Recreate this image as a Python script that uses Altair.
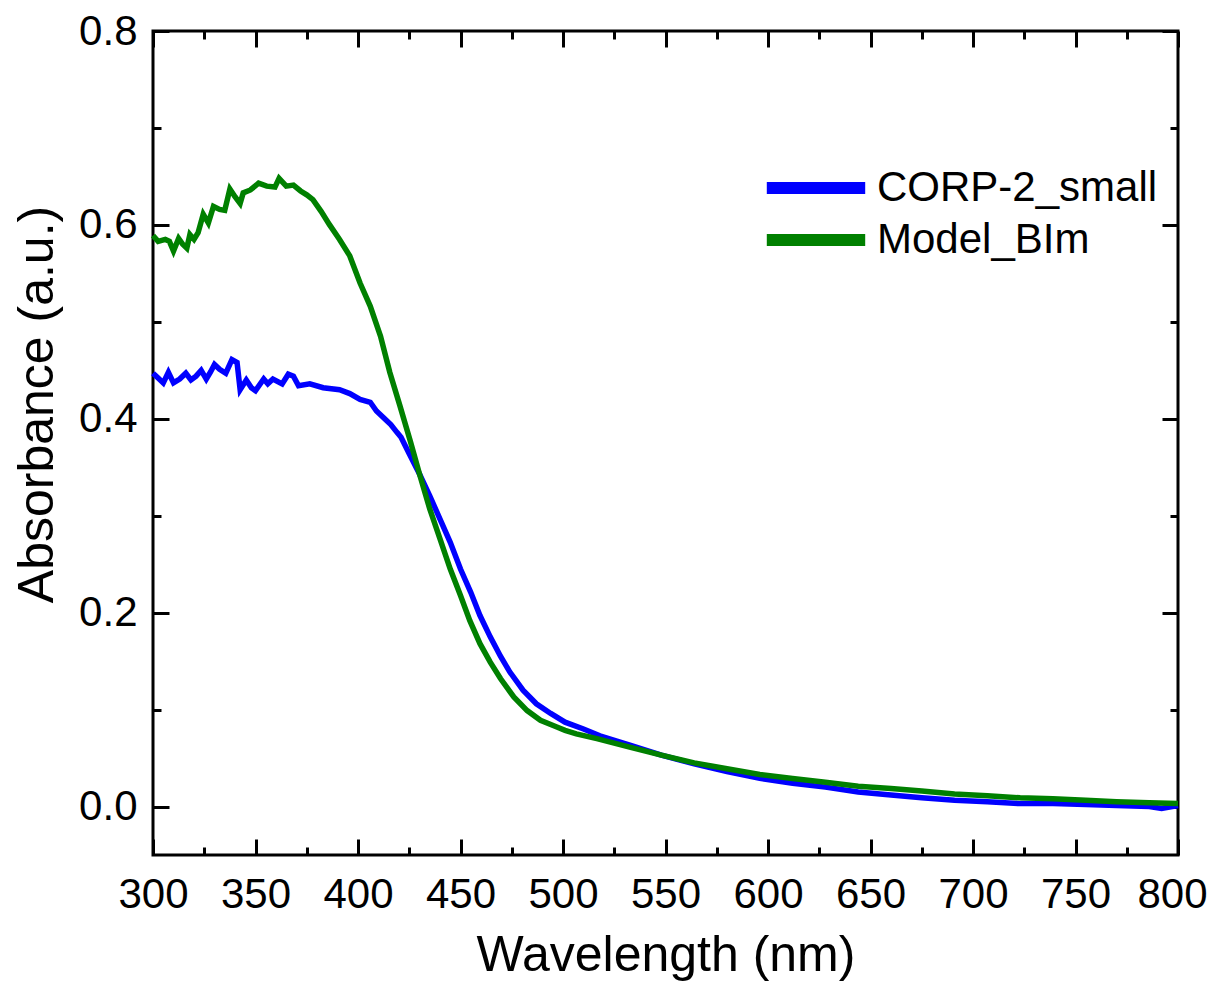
import altair as alt
import pandas as pd

# ---- data ----
series_names = ["CORP-2_small", "Model_BIm"]
series_colors = ["#0000FF", "#008000"]

corp_wl = [300, 302.5, 305, 307.5, 310, 313, 316, 318.5, 321, 323.5, 326, 328, 330, 332.5,
           335.5, 338.5, 341, 342.5, 345.5, 348, 350, 354, 356, 358.5, 363, 366, 368.5, 371,
           376.5, 383, 391, 396, 401, 406, 409, 412.5, 416, 419, 421, 425, 430, 435, 440,
           445, 450, 455, 459.5, 464.5, 469.5, 474, 480.5, 487, 494, 501, 510, 518, 533,
           548, 564, 580, 596, 612, 628, 644, 660, 675, 691, 707, 723, 739, 755, 770, 786,
           792, 800]
corp_abs = [0.447, 0.442, 0.437, 0.448, 0.437, 0.441, 0.447, 0.440, 0.444, 0.450, 0.441,
            0.448, 0.456, 0.451, 0.447, 0.461, 0.458, 0.430, 0.440, 0.432, 0.429, 0.441,
            0.436, 0.441, 0.436, 0.446, 0.444, 0.434, 0.436, 0.432, 0.430, 0.426, 0.420,
            0.417, 0.408, 0.401, 0.394, 0.386, 0.381, 0.364, 0.343, 0.3205, 0.2965, 0.2725,
            0.245, 0.221, 0.197, 0.175, 0.155, 0.139, 0.120, 0.106, 0.096, 0.087, 0.080,
            0.073, 0.063, 0.053, 0.044, 0.036, 0.029, 0.024, 0.020, 0.015, 0.012, 0.009,
            0.0065, 0.005, 0.003, 0.003, 0.002, 0.001, 0.000, -0.002, 0.001]

model_wl = [300, 302.5, 306, 308, 310, 312.5, 314.5, 316.5, 318, 320, 322, 324.5, 327, 329.5,
            332.5, 335, 337.5, 340, 342.5, 344, 347.5, 351.5, 355.5, 359.5, 361.5, 365,
            368.5, 372, 375, 378, 382, 386, 391, 396, 401, 406, 411, 415.5, 420.5, 425.5,
            430, 435, 440, 445, 450, 454.5, 459.5, 464.5, 469.5, 476, 482.5, 489, 497, 501,
            506.5, 516.5, 533, 548, 564, 580, 596, 612, 628, 644, 660, 675, 691, 707, 723,
            739, 755, 770, 786, 800]
model_abs = [0.589, 0.583, 0.585, 0.583, 0.573, 0.586, 0.580, 0.576, 0.590, 0.585, 0.592,
             0.611, 0.602, 0.619, 0.616, 0.615, 0.637, 0.629, 0.622, 0.633, 0.636, 0.643,
             0.640, 0.639, 0.648, 0.640, 0.641, 0.635, 0.631, 0.626, 0.614, 0.6005, 0.585,
             0.568, 0.540, 0.516, 0.485, 0.448, 0.413, 0.377, 0.343, 0.307, 0.276, 0.245,
             0.2176, 0.192, 0.168, 0.149, 0.132, 0.113, 0.099, 0.089, 0.082, 0.0786, 0.075,
             0.070, 0.061, 0.053, 0.045, 0.039, 0.033, 0.029, 0.025, 0.021, 0.0185, 0.016,
             0.013, 0.011, 0.009, 0.008, 0.0065, 0.005, 0.004, 0.003]

x_major = [300, 350, 400, 450, 500, 550, 600, 650, 700, 750, 800]
x_minor = [325, 375, 425, 475, 525, 575, 625, 675, 725, 775]
y_major = [0.0, 0.2, 0.4, 0.6, 0.8]
y_minor = [0.1, 0.3, 0.5, 0.7]

x_domain = [300, 800]
y_domain = [-0.05, 0.8]

df = pd.concat([
    pd.DataFrame({"wl": corp_wl, "absb": corp_abs, "series": series_names[0], "order": 0}),
    pd.DataFrame({"wl": model_wl, "absb": model_abs, "series": series_names[1], "order": 1}),
], ignore_index=True)

W, H = 1025, 824
FONT = "Liberation Sans"

xscale = alt.Scale(domain=x_domain, nice=False, zero=False)
yscale = alt.Scale(domain=y_domain, nice=False, zero=False)

base = alt.Chart(df)

main = base.mark_line(strokeWidth=5.5).encode(
    x=alt.X("wl:Q", scale=xscale, axis=alt.Axis(
        orient="bottom", values=x_major, ticks=False, tickSize=0, domain=False, grid=False,
        labelFontSize=42, labelFont=FONT, labelColor="black", labelBaseline="alphabetic",
        labelPadding=52, labelFlush=False, labelOverlap=False,
        labelOffset=alt.ExprRef("datum.value == 800 ? -6 : 0"),
        title="Wavelength (nm)", titleFontSize=50, titleFont=FONT, titleFontWeight="normal",
        titleColor="black", titleBaseline="alphabetic", titleY=115)),
    y=alt.Y("absb:Q", scale=yscale, axis=alt.Axis(
        orient="left", values=y_major, format=".1f", ticks=False, tickSize=0, domain=False,
        grid=False, labelFontSize=42, labelFont=FONT, labelColor="black", labelPadding=16,
        labelFlush=False, labelOverlap=False,
        title="Absorbance (a.u.)", titleFontSize=50, titleFont=FONT, titleFontWeight="normal",
        titleColor="black", titleAngle=270, titleBaseline="alphabetic", titleAlign="center",
        titleX=-101, titleY=373)),
    color=alt.Color("series:N", scale=alt.Scale(domain=series_names, range=series_colors),
                    legend=alt.Legend(title=None, orient="none", legendX=642, legendY=136,
                                      symbolType="M-4.1,0L4.1,0", symbolSize=576,
                                      symbolStrokeWidth=12, labelFontSize=42, labelFont=FONT,
                                      labelColor="black", labelOffset=40, labelLimit=500,
                                      rowPadding=4, padding=0)),
    order=alt.Order("order:Q"),
)


def tick_layer(x_orient, x_vals, y_orient, y_vals, size):
    return base.mark_line(strokeOpacity=0).encode(
        x=alt.X("wl:Q", scale=xscale, axis=alt.Axis(
            orient=x_orient, offset=-H, values=x_vals, ticks=True, tickSize=size,
            tickWidth=3, tickColor="black", labels=False, domain=False, grid=False,
            title=None)),
        y=alt.Y("absb:Q", scale=yscale, axis=alt.Axis(
            orient=y_orient, offset=-W, values=y_vals, ticks=True, tickSize=size,
            tickWidth=3, tickColor="black", labels=False, domain=False, grid=False,
            title=None)),
        detail="series:N",
    )


layers = [
    main,
    tick_layer("top", x_major, "right", y_major, 16),
    tick_layer("top", x_minor, "right", y_minor, 8),
    tick_layer("bottom", x_major, "left", y_major, 16),
    tick_layer("bottom", x_minor, "left", y_minor, 8),
]

chart = alt.layer(*layers).resolve_axis(x="independent", y="independent").properties(
    width=W, height=H, autosize="none",
    padding={"left": 145, "top": 23, "right": 31, "bottom": 126},
).configure(font=FONT, background="white").configure_view(stroke="black", strokeWidth=3)

chart.save("out.html", embed_options={"renderer": "svg", "actions": False})
